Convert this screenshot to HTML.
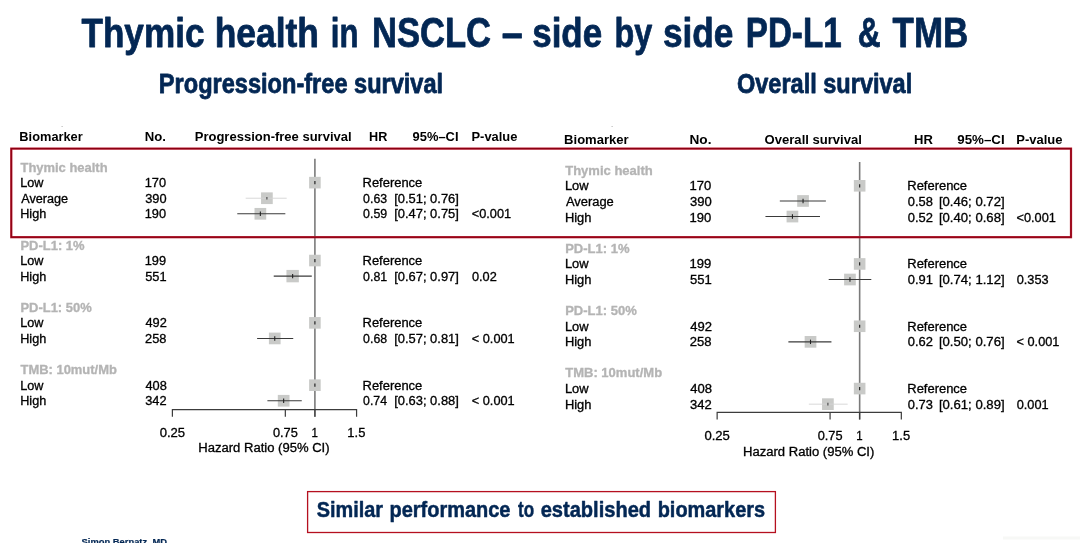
<!DOCTYPE html>
<html lang="en"><head><meta charset="utf-8"><title>Thymic health in NSCLC</title>
<style>
html,body{margin:0;padding:0;background:#fff;}
body{width:1080px;height:543px;overflow:hidden;}
svg{display:block;font-family:"Liberation Sans",Arial,Helvetica,sans-serif;}
.b{font-weight:bold;stroke:none !important;}
.t{font-size:12px;fill:#000;stroke:#000;stroke-width:0.3px;}
.g{font-size:12px;font-weight:bold;fill:#b4b4b4;stroke:#b4b4b4;stroke-width:0.3px;}
.n{fill:#032754;stroke:#032754;stroke-linejoin:round;font-weight:bold;}
</style></head><body>
<svg width="1080" height="543" viewBox="0 0 1080 543">
<rect x="0" y="0" width="1080" height="543" fill="#ffffff"/>
<text x="81.45" y="46.60" class="n" stroke-width="0.80" textLength="122.99" lengthAdjust="spacingAndGlyphs" xml:space="preserve"><tspan font-size="41.47">Thymic</tspan></text>
<text x="214.67" y="46.60" class="n" stroke-width="0.80" textLength="104.35" lengthAdjust="spacingAndGlyphs" xml:space="preserve"><tspan font-size="40.8">health</tspan></text>
<text x="330.72" y="46.60" class="n" stroke-width="0.80" textLength="27.71" lengthAdjust="spacingAndGlyphs" xml:space="preserve"><tspan font-size="40.8">in</tspan></text>
<text x="371.90" y="46.60" class="n" stroke-width="0.80" textLength="119.22" lengthAdjust="spacingAndGlyphs" xml:space="preserve"><tspan font-size="42.3">NSCLC</tspan></text>
<text x="501.77" y="46.60" class="n" stroke-width="0.80" textLength="21.01" lengthAdjust="spacingAndGlyphs" xml:space="preserve"><tspan font-size="42.3">–</tspan></text>
<text x="532.28" y="46.60" class="n" stroke-width="0.80" textLength="69.83" lengthAdjust="spacingAndGlyphs" xml:space="preserve"><tspan font-size="40.8">side</tspan></text>
<text x="614.55" y="46.60" class="n" stroke-width="0.80" textLength="37.78" lengthAdjust="spacingAndGlyphs" xml:space="preserve"><tspan font-size="40.8">by</tspan></text>
<text x="662.92" y="46.60" class="n" stroke-width="0.80" textLength="70.45" lengthAdjust="spacingAndGlyphs" xml:space="preserve"><tspan font-size="40.8">side</tspan></text>
<text x="745.74" y="46.60" class="n" stroke-width="0.80" textLength="95.91" lengthAdjust="spacingAndGlyphs" xml:space="preserve"><tspan font-size="42.3">PD-L1</tspan></text>
<text x="857.72" y="46.60" class="n" stroke-width="0.80" textLength="22.90" lengthAdjust="spacingAndGlyphs" xml:space="preserve"><tspan font-size="42.3">&amp;</tspan></text>
<text x="892.55" y="46.60" class="n" stroke-width="0.80" textLength="75.66" lengthAdjust="spacingAndGlyphs" xml:space="preserve"><tspan font-size="42.3">TMB</tspan></text>
<text x="158.87" y="93.20" class="n" stroke-width="0.80" textLength="284.28" lengthAdjust="spacingAndGlyphs" xml:space="preserve"><tspan font-size="28.05">Progression-free survival</tspan></text>
<text x="736.96" y="93.20" class="n" stroke-width="0.80" textLength="175.27" lengthAdjust="spacingAndGlyphs" xml:space="preserve"><tspan font-size="28.05">Overall survival</tspan></text>
<text x="19.37" y="140.70" class="t b" font-size="12" textLength="63.38" lengthAdjust="spacingAndGlyphs">Biomarker</text>
<text x="144.74" y="140.70" class="t b" font-size="12" textLength="21.22" lengthAdjust="spacingAndGlyphs">No.</text>
<text x="194.75" y="140.70" class="t b" font-size="12" textLength="156.85" lengthAdjust="spacingAndGlyphs">Progression-free survival</text>
<text x="369.03" y="140.70" class="t b" font-size="12" textLength="18.28" lengthAdjust="spacingAndGlyphs">HR</text>
<text x="412.55" y="140.70" class="t b" font-size="12" textLength="45.93" lengthAdjust="spacingAndGlyphs">95%–CI</text>
<text x="471.51" y="140.70" class="t b" font-size="12" textLength="45.87" lengthAdjust="spacingAndGlyphs">P-value</text>
<line x1="314.90" y1="158.75" x2="314.90" y2="416.70" stroke="#7a7a7a" stroke-width="1.6"/>
<text x="20.47" y="171.66" class="g" font-size="12" textLength="87.09" lengthAdjust="spacingAndGlyphs">Thymic health</text>
<text x="20.19" y="187.24" class="t" font-size="12" textLength="23.21" lengthAdjust="spacingAndGlyphs">Low</text>
<text x="144.74" y="187.24" class="t" font-size="12" textLength="21.34" lengthAdjust="spacingAndGlyphs">170</text>
<text x="362.56" y="187.24" class="t" font-size="12" textLength="59.75" lengthAdjust="spacingAndGlyphs">Reference</text>
<rect x="309.10" y="176.84" width="11.6" height="11.6" fill="#c9cac8"/>
<line x1="314.90" y1="181.04" x2="314.90" y2="184.24" stroke="#222" stroke-width="1.2"/>
<text x="21.20" y="202.82" class="t" font-size="12" textLength="46.89" lengthAdjust="spacingAndGlyphs">Average</text>
<text x="145.19" y="202.82" class="t" font-size="12" textLength="21.34" lengthAdjust="spacingAndGlyphs">390</text>
<rect x="261.05" y="192.37" width="11.70" height="11.70" fill="#c9cac8"/>
<line x1="245.68" y1="198.22" x2="286.69" y2="198.22" stroke="#d4d4d4" stroke-width="0.9"/>
<line x1="266.90" y1="196.92" x2="266.90" y2="199.52" stroke="#444" stroke-width="1.1"/>
<text x="363.11" y="202.82" class="t" font-size="12" textLength="24.00" lengthAdjust="spacingAndGlyphs">0.63</text>
<text x="394.20" y="202.82" class="t" font-size="12" textLength="64.66" lengthAdjust="spacingAndGlyphs">[0.51; 0.76]</text>
<text x="20.19" y="218.40" class="t" font-size="12" textLength="26.02" lengthAdjust="spacingAndGlyphs">High</text>
<text x="144.74" y="218.40" class="t" font-size="12" textLength="21.34" lengthAdjust="spacingAndGlyphs">190</text>
<rect x="254.51" y="207.95" width="11.70" height="11.70" fill="#c9cac8"/>
<line x1="237.28" y1="213.80" x2="285.33" y2="213.80" stroke="#3a3a3a" stroke-width="1.1"/>
<line x1="260.36" y1="211.60" x2="260.36" y2="216.00" stroke="#222" stroke-width="1.1"/>
<text x="363.11" y="218.40" class="t" font-size="12" textLength="24.07" lengthAdjust="spacingAndGlyphs">0.59</text>
<text x="394.20" y="218.40" class="t" font-size="12" textLength="64.66" lengthAdjust="spacingAndGlyphs">[0.47; 0.75]</text>
<text x="471.81" y="218.40" class="t" font-size="12" textLength="39.33" lengthAdjust="spacingAndGlyphs">&lt;0.001</text>
<text x="20.46" y="249.56" class="g" font-size="12" textLength="64.06" lengthAdjust="spacingAndGlyphs">PD-L1: 1%</text>
<text x="20.19" y="265.14" class="t" font-size="12" textLength="23.21" lengthAdjust="spacingAndGlyphs">Low</text>
<text x="144.74" y="265.14" class="t" font-size="12" textLength="21.34" lengthAdjust="spacingAndGlyphs">199</text>
<text x="362.56" y="265.14" class="t" font-size="12" textLength="59.75" lengthAdjust="spacingAndGlyphs">Reference</text>
<rect x="309.10" y="254.74" width="11.6" height="11.6" fill="#c9cac8"/>
<line x1="314.90" y1="258.94" x2="314.90" y2="262.14" stroke="#222" stroke-width="1.2"/>
<text x="20.19" y="280.72" class="t" font-size="12" textLength="26.02" lengthAdjust="spacingAndGlyphs">High</text>
<text x="145.19" y="280.72" class="t" font-size="12" textLength="21.34" lengthAdjust="spacingAndGlyphs">551</text>
<rect x="286.44" y="269.92" width="12.40" height="12.40" fill="#c9cac8"/>
<line x1="273.73" y1="276.12" x2="311.77" y2="276.12" stroke="#3a3a3a" stroke-width="1.1"/>
<line x1="292.64" y1="273.92" x2="292.64" y2="278.32" stroke="#222" stroke-width="1.1"/>
<text x="363.11" y="280.72" class="t" font-size="12" textLength="24.07" lengthAdjust="spacingAndGlyphs">0.81</text>
<text x="394.20" y="280.72" class="t" font-size="12" textLength="64.66" lengthAdjust="spacingAndGlyphs">[0.67; 0.97]</text>
<text x="471.94" y="280.72" class="t" font-size="12" textLength="24.80" lengthAdjust="spacingAndGlyphs">0.02</text>
<text x="20.46" y="311.88" class="g" font-size="12" textLength="71.26" lengthAdjust="spacingAndGlyphs">PD-L1: 50%</text>
<text x="20.19" y="327.46" class="t" font-size="12" textLength="23.21" lengthAdjust="spacingAndGlyphs">Low</text>
<text x="145.44" y="327.46" class="t" font-size="12" textLength="21.34" lengthAdjust="spacingAndGlyphs">492</text>
<text x="362.56" y="327.46" class="t" font-size="12" textLength="59.75" lengthAdjust="spacingAndGlyphs">Reference</text>
<rect x="309.10" y="317.06" width="11.6" height="11.6" fill="#c9cac8"/>
<line x1="314.90" y1="321.26" x2="314.90" y2="324.46" stroke="#222" stroke-width="1.2"/>
<text x="20.19" y="343.04" class="t" font-size="12" textLength="26.02" lengthAdjust="spacingAndGlyphs">High</text>
<text x="145.06" y="343.04" class="t" font-size="12" textLength="21.34" lengthAdjust="spacingAndGlyphs">258</text>
<rect x="268.90" y="332.59" width="11.70" height="11.70" fill="#c9cac8"/>
<line x1="257.11" y1="338.44" x2="293.24" y2="338.44" stroke="#3a3a3a" stroke-width="1.1"/>
<line x1="274.75" y1="336.24" x2="274.75" y2="340.64" stroke="#222" stroke-width="1.1"/>
<text x="363.11" y="343.04" class="t" font-size="12" textLength="24.00" lengthAdjust="spacingAndGlyphs">0.68</text>
<text x="394.20" y="343.04" class="t" font-size="12" textLength="64.66" lengthAdjust="spacingAndGlyphs">[0.57; 0.81]</text>
<text x="471.81" y="343.04" class="t" font-size="12" textLength="42.87" lengthAdjust="spacingAndGlyphs">&lt; 0.001</text>
<text x="20.47" y="374.20" class="g" font-size="12" textLength="96.42" lengthAdjust="spacingAndGlyphs">TMB: 10mut/Mb</text>
<text x="20.19" y="389.78" class="t" font-size="12" textLength="23.21" lengthAdjust="spacingAndGlyphs">Low</text>
<text x="145.44" y="389.78" class="t" font-size="12" textLength="21.34" lengthAdjust="spacingAndGlyphs">408</text>
<text x="362.56" y="389.78" class="t" font-size="12" textLength="59.75" lengthAdjust="spacingAndGlyphs">Reference</text>
<rect x="309.10" y="379.38" width="11.6" height="11.6" fill="#c9cac8"/>
<line x1="314.90" y1="383.58" x2="314.90" y2="386.78" stroke="#222" stroke-width="1.2"/>
<text x="20.19" y="405.36" class="t" font-size="12" textLength="26.02" lengthAdjust="spacingAndGlyphs">High</text>
<text x="145.19" y="405.36" class="t" font-size="12" textLength="21.34" lengthAdjust="spacingAndGlyphs">342</text>
<rect x="277.80" y="394.91" width="11.70" height="11.70" fill="#c9cac8"/>
<line x1="267.40" y1="400.76" x2="301.76" y2="400.76" stroke="#3a3a3a" stroke-width="1.1"/>
<line x1="283.65" y1="398.56" x2="283.65" y2="402.96" stroke="#222" stroke-width="1.1"/>
<text x="363.11" y="405.36" class="t" font-size="12" textLength="23.87" lengthAdjust="spacingAndGlyphs">0.74</text>
<text x="394.20" y="405.36" class="t" font-size="12" textLength="64.66" lengthAdjust="spacingAndGlyphs">[0.63; 0.88]</text>
<text x="471.81" y="405.36" class="t" font-size="12" textLength="42.87" lengthAdjust="spacingAndGlyphs">&lt; 0.001</text>
<path d="M172.39 416.70 V409.70 H356.58 V416.70 M285.33 409.70 V416.70 M314.90 409.70 V416.70" fill="none" stroke="#3c3c3c" stroke-width="1.2"/>
<text x="159.67" y="436.60" class="t" font-size="12" textLength="25.46" lengthAdjust="spacingAndGlyphs">0.25</text>
<text x="272.92" y="436.60" class="t" font-size="12" textLength="24.84" lengthAdjust="spacingAndGlyphs">0.75</text>
<text x="311.54" y="436.60" class="t" font-size="12" textLength="6.39" lengthAdjust="spacingAndGlyphs">1</text>
<text x="347.36" y="436.60" class="t" font-size="12" textLength="17.99" lengthAdjust="spacingAndGlyphs">1.5</text>
<text x="198.31" y="451.90" class="t" font-size="12" textLength="131.28" lengthAdjust="spacingAndGlyphs">Hazard Ratio (95% CI)</text>
<text x="564.10" y="143.95" class="t b" font-size="12.2" textLength="64.60" lengthAdjust="spacingAndGlyphs">Biomarker</text>
<text x="689.46" y="143.95" class="t b" font-size="12.2" textLength="21.99" lengthAdjust="spacingAndGlyphs">No.</text>
<text x="764.58" y="143.95" class="t b" font-size="12.2" textLength="97.33" lengthAdjust="spacingAndGlyphs">Overall survival</text>
<text x="914.00" y="143.95" class="t b" font-size="12.2" textLength="18.81" lengthAdjust="spacingAndGlyphs">HR</text>
<text x="957.28" y="143.95" class="t b" font-size="12.2" textLength="47.37" lengthAdjust="spacingAndGlyphs">95%–CI</text>
<text x="1016.26" y="143.95" class="t b" font-size="12.2" textLength="46.18" lengthAdjust="spacingAndGlyphs">P-value</text>
<line x1="859.65" y1="162.00" x2="859.65" y2="419.45" stroke="#7a7a7a" stroke-width="1.6"/>
<text x="565.22" y="174.81" class="g" font-size="12.2" textLength="87.53" lengthAdjust="spacingAndGlyphs">Thymic health</text>
<text x="564.92" y="190.39" class="t" font-size="12.2" textLength="23.67" lengthAdjust="spacingAndGlyphs">Low</text>
<text x="689.47" y="190.39" class="t" font-size="12.2" textLength="21.77" lengthAdjust="spacingAndGlyphs">170</text>
<text x="907.31" y="190.39" class="t" font-size="12.2" textLength="59.75" lengthAdjust="spacingAndGlyphs">Reference</text>
<rect x="853.85" y="179.99" width="11.6" height="11.6" fill="#c9cac8"/>
<line x1="859.65" y1="184.19" x2="859.65" y2="187.39" stroke="#222" stroke-width="1.2"/>
<text x="565.95" y="205.97" class="t" font-size="12.2" textLength="47.83" lengthAdjust="spacingAndGlyphs">Average</text>
<text x="689.93" y="205.97" class="t" font-size="12.2" textLength="21.77" lengthAdjust="spacingAndGlyphs">390</text>
<rect x="797.20" y="195.12" width="11.70" height="11.70" fill="#c9cac8"/>
<line x1="779.82" y1="200.97" x2="825.88" y2="200.97" stroke="#3a3a3a" stroke-width="1.1"/>
<line x1="803.05" y1="198.77" x2="803.05" y2="203.17" stroke="#222" stroke-width="1.1"/>
<text x="907.84" y="205.97" class="t" font-size="12.2" textLength="25.05" lengthAdjust="spacingAndGlyphs">0.58</text>
<text x="938.93" y="205.97" class="t" font-size="12.2" textLength="65.69" lengthAdjust="spacingAndGlyphs">[0.46; 0.72]</text>
<text x="564.92" y="221.55" class="t" font-size="12.2" textLength="26.54" lengthAdjust="spacingAndGlyphs">High</text>
<text x="689.47" y="221.55" class="t" font-size="12.2" textLength="21.77" lengthAdjust="spacingAndGlyphs">190</text>
<rect x="786.58" y="210.70" width="11.70" height="11.70" fill="#c9cac8"/>
<line x1="765.46" y1="216.55" x2="820.00" y2="216.55" stroke="#3a3a3a" stroke-width="1.1"/>
<line x1="792.43" y1="214.35" x2="792.43" y2="218.75" stroke="#222" stroke-width="1.1"/>
<text x="907.83" y="221.55" class="t" font-size="12.2" textLength="25.18" lengthAdjust="spacingAndGlyphs">0.52</text>
<text x="938.93" y="221.55" class="t" font-size="12.2" textLength="65.69" lengthAdjust="spacingAndGlyphs">[0.40; 0.68]</text>
<text x="1016.56" y="221.55" class="t" font-size="12.2" textLength="39.33" lengthAdjust="spacingAndGlyphs">&lt;0.001</text>
<text x="565.20" y="252.71" class="g" font-size="12.2" textLength="64.38" lengthAdjust="spacingAndGlyphs">PD-L1: 1%</text>
<text x="564.92" y="268.29" class="t" font-size="12.2" textLength="23.67" lengthAdjust="spacingAndGlyphs">Low</text>
<text x="689.47" y="268.29" class="t" font-size="12.2" textLength="21.77" lengthAdjust="spacingAndGlyphs">199</text>
<text x="907.31" y="268.29" class="t" font-size="12.2" textLength="59.75" lengthAdjust="spacingAndGlyphs">Reference</text>
<rect x="853.85" y="258.14" width="11.6" height="11.6" fill="#c9cac8"/>
<line x1="859.65" y1="262.34" x2="859.65" y2="265.54" stroke="#222" stroke-width="1.2"/>
<text x="564.92" y="283.87" class="t" font-size="12.2" textLength="26.54" lengthAdjust="spacingAndGlyphs">High</text>
<text x="689.93" y="283.87" class="t" font-size="12.2" textLength="21.77" lengthAdjust="spacingAndGlyphs">551</text>
<rect x="844.10" y="273.67" width="11.70" height="11.70" fill="#c9cac8"/>
<line x1="828.70" y1="279.52" x2="871.30" y2="279.52" stroke="#3a3a3a" stroke-width="1.1"/>
<line x1="849.95" y1="277.32" x2="849.95" y2="281.72" stroke="#222" stroke-width="1.1"/>
<text x="907.83" y="283.87" class="t" font-size="12.2" textLength="25.11" lengthAdjust="spacingAndGlyphs">0.91</text>
<text x="938.93" y="283.87" class="t" font-size="12.2" textLength="65.69" lengthAdjust="spacingAndGlyphs">[0.74; 1.12]</text>
<text x="1016.69" y="283.87" class="t" font-size="12.2" textLength="31.89" lengthAdjust="spacingAndGlyphs">0.353</text>
<text x="565.20" y="315.03" class="g" font-size="12.2" textLength="71.62" lengthAdjust="spacingAndGlyphs">PD-L1: 50%</text>
<text x="564.92" y="330.61" class="t" font-size="12.2" textLength="23.67" lengthAdjust="spacingAndGlyphs">Low</text>
<text x="690.19" y="330.61" class="t" font-size="12.2" textLength="21.77" lengthAdjust="spacingAndGlyphs">492</text>
<text x="907.31" y="330.61" class="t" font-size="12.2" textLength="59.75" lengthAdjust="spacingAndGlyphs">Reference</text>
<rect x="853.85" y="320.46" width="11.6" height="11.6" fill="#c9cac8"/>
<line x1="859.65" y1="324.66" x2="859.65" y2="327.86" stroke="#222" stroke-width="1.2"/>
<text x="564.92" y="346.19" class="t" font-size="12.2" textLength="26.54" lengthAdjust="spacingAndGlyphs">High</text>
<text x="689.80" y="346.19" class="t" font-size="12.2" textLength="21.77" lengthAdjust="spacingAndGlyphs">258</text>
<rect x="804.66" y="335.99" width="11.70" height="11.70" fill="#c9cac8"/>
<line x1="788.39" y1="341.84" x2="831.44" y2="341.84" stroke="#3a3a3a" stroke-width="1.1"/>
<line x1="810.51" y1="339.64" x2="810.51" y2="344.04" stroke="#222" stroke-width="1.1"/>
<text x="907.83" y="346.19" class="t" font-size="12.2" textLength="25.18" lengthAdjust="spacingAndGlyphs">0.62</text>
<text x="938.93" y="346.19" class="t" font-size="12.2" textLength="65.69" lengthAdjust="spacingAndGlyphs">[0.50; 0.76]</text>
<text x="1016.56" y="346.19" class="t" font-size="12.2" textLength="42.87" lengthAdjust="spacingAndGlyphs">&lt; 0.001</text>
<text x="565.22" y="377.35" class="g" font-size="12.2" textLength="96.90" lengthAdjust="spacingAndGlyphs">TMB: 10mut/Mb</text>
<text x="564.92" y="392.93" class="t" font-size="12.2" textLength="23.67" lengthAdjust="spacingAndGlyphs">Low</text>
<text x="690.19" y="392.93" class="t" font-size="12.2" textLength="21.77" lengthAdjust="spacingAndGlyphs">408</text>
<text x="907.31" y="392.93" class="t" font-size="12.2" textLength="59.75" lengthAdjust="spacingAndGlyphs">Reference</text>
<rect x="853.85" y="382.78" width="11.6" height="11.6" fill="#c9cac8"/>
<line x1="859.65" y1="386.98" x2="859.65" y2="390.18" stroke="#222" stroke-width="1.2"/>
<text x="564.92" y="408.51" class="t" font-size="12.2" textLength="26.54" lengthAdjust="spacingAndGlyphs">High</text>
<text x="689.93" y="408.51" class="t" font-size="12.2" textLength="21.77" lengthAdjust="spacingAndGlyphs">342</text>
<rect x="822.05" y="398.31" width="11.70" height="11.70" fill="#c9cac8"/>
<line x1="808.84" y1="404.16" x2="847.67" y2="404.16" stroke="#d4d4d4" stroke-width="0.9"/>
<line x1="827.90" y1="402.86" x2="827.90" y2="405.46" stroke="#444" stroke-width="1.1"/>
<text x="907.84" y="408.51" class="t" font-size="12.2" textLength="25.05" lengthAdjust="spacingAndGlyphs">0.73</text>
<text x="938.93" y="408.51" class="t" font-size="12.2" textLength="65.69" lengthAdjust="spacingAndGlyphs">[0.61; 0.89]</text>
<text x="1016.69" y="408.51" class="t" font-size="12.2" textLength="31.89" lengthAdjust="spacingAndGlyphs">0.001</text>
<path d="M717.14 419.45 V412.45 H901.33 V419.45 M830.08 412.45 V419.45 M859.65 412.45 V419.45" fill="none" stroke="#3c3c3c" stroke-width="1.2"/>
<text x="704.42" y="439.85" class="t" font-size="12" textLength="25.46" lengthAdjust="spacingAndGlyphs">0.25</text>
<text x="817.67" y="439.85" class="t" font-size="12" textLength="24.84" lengthAdjust="spacingAndGlyphs">0.75</text>
<text x="856.29" y="439.85" class="t" font-size="12" textLength="6.39" lengthAdjust="spacingAndGlyphs">1</text>
<text x="892.11" y="439.85" class="t" font-size="12" textLength="17.99" lengthAdjust="spacingAndGlyphs">1.5</text>
<text x="743.06" y="455.55" class="t" font-size="12" textLength="131.28" lengthAdjust="spacingAndGlyphs">Hazard Ratio (95% CI)</text>
<rect x="11.3" y="148.6" width="1059.7" height="88.6" fill="none" stroke="#bd2036" stroke-width="2.25"/>
<rect x="11.3" y="148.6" width="1059.7" height="88.6" fill="none" stroke="#8a0012" stroke-width="1.2"/>
<rect x="307.6" y="491.6" width="467.8" height="40.9" fill="#fff" stroke="#b5101f" stroke-width="1.3"/>
<text x="316.65" y="517.40" class="n" stroke-width="0.50" textLength="66.39" lengthAdjust="spacingAndGlyphs" xml:space="preserve"><tspan font-size="22.35">Similar</tspan></text>
<text x="389.45" y="517.40" class="n" stroke-width="0.50" textLength="121.05" lengthAdjust="spacingAndGlyphs" xml:space="preserve"><tspan font-size="21.9">performance</tspan></text>
<text x="518.08" y="517.40" class="n" stroke-width="0.50" textLength="16.08" lengthAdjust="spacingAndGlyphs" xml:space="preserve"><tspan font-size="21.9">to</tspan></text>
<text x="540.70" y="517.40" class="n" stroke-width="0.50" textLength="110.40" lengthAdjust="spacingAndGlyphs" xml:space="preserve"><tspan font-size="21.9">established</tspan></text>
<text x="657.71" y="517.40" class="n" stroke-width="0.50" textLength="107.37" lengthAdjust="spacingAndGlyphs" xml:space="preserve"><tspan font-size="21.9">biomarkers</tspan></text>
<text x="81.52" y="545.00" class="n" font-size="9.3" stroke-width="0.20" textLength="85.47" lengthAdjust="spacingAndGlyphs">Simon Bernatz, MD</text>
<rect x="1003" y="536.5" width="77" height="3" fill="#f7f8f6"/>
<rect x="61.6" y="126" width="1" height="0.8" fill="#999"/>
<rect x="611.6" y="126" width="1" height="0.8" fill="#999"/>
</svg></body></html>
